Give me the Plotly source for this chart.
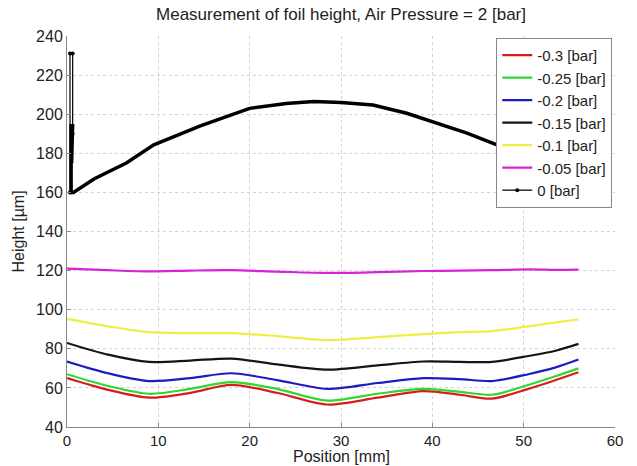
import plotly.graph_objects as go

# Common positions (mm) for the six lower curves
pos = [0, 4.5, 9, 13.5, 18, 23, 28.5, 34, 39, 43, 46.5, 50.5, 53.5, 56]

h_m030 = [65, 59, 55, 57.5, 61.5, 57.5, 51.5, 55, 58.3, 56.5, 54.5, 59.5, 64, 68]
h_m025 = [67, 61, 57, 59.5, 63, 59.5, 53.5, 57, 59.5, 58, 56.5, 61.5, 66, 70]
h_m020 = [73.5, 67.5, 63.5, 65, 67.5, 64, 59.5, 62.5, 65, 64.5, 63.5, 67, 70.5, 74.5]
h_m015 = [83, 77, 73.3, 74, 75, 72, 69.3, 71.5, 73.5, 73.3, 73.3, 76.3, 79, 82.5]
h_m010 = [95.3, 91.5, 88.5, 88, 88, 86.5, 84.5, 86, 87.5, 88.5, 89, 91.5, 93.5, 95]
h_m005 = [121, 120.2, 119.6, 120, 120.2, 119.5, 118.8, 119.2, 119.8, 120, 120.2, 120.6, 120.4, 120.5]

# 0 bar: start-up spike and main curve
pos_0_spike = [0.33, 0.33, 0.62, 0.62]
h_0_spike = [160, 231, 231, 190]
pos_0 = [0.62, 0.5, 0.45, 0.45, 0.7, 3, 6.5, 9.5, 14.6, 20, 24, 27, 30, 33.5, 37.2, 40, 43.8, 47, 50, 53, 56]
h_0 = [195, 175, 195, 160, 160, 167, 175, 184.3, 194, 203, 205.5, 206.5, 206, 204.7, 200.5, 196.2, 190.3, 184.5, 178, 171, 164]

names = ["-0.3 [bar]", "-0.25 [bar]", "-0.2 [bar]", "-0.15 [bar]", "-0.1 [bar]", "-0.05 [bar]"]
series = [h_m030, h_m025, h_m020, h_m015, h_m010, h_m005]
colors = ["#d81c1c", "#2ed82e", "#1c1cc0", "#151515", "#eeee44", "#d822d8"]

x_ticks = [0, 10, 20, 30, 40, 50, 60]
y_ticks = [40, 60, 80, 100, 120, 140, 160, 180, 200, 220, 240]

fig = go.Figure()
for nm, ys, c in zip(names, series, colors):
    fig.add_trace(go.Scatter(x=pos, y=ys, name=nm, mode="lines",
                             line=dict(color=c, width=2.2, shape="spline", smoothing=0.8)))
fig.add_trace(go.Scatter(x=pos_0, y=h_0, name="0 [bar]", mode="lines", legendgroup="zero",
                         showlegend=False, line=dict(color="#000000", width=3.5)))
fig.add_trace(go.Scatter(x=pos_0_spike, y=h_0_spike, name="0 [bar]", mode="lines+markers",
                         legendgroup="zero",
                         line=dict(color="#000000", width=1.2),
                         marker=dict(size=4, color="#000000")))

font_family = "Liberation Sans, Arial, sans-serif"
txt = "#222222"
fig.update_layout(
    width=637, height=466,
    margin=dict(l=67, r=22, t=36, b=39),
    paper_bgcolor="white", plot_bgcolor="white",
    font=dict(family=font_family, size=16, color=txt),
    title=dict(text="Measurement of foil height, Air Pressure = 2 [bar]",
               xref="paper", x=0.5, xanchor="center", y=0.97, yanchor="middle",
               font=dict(size=17, color=txt)),
    showlegend=True,
    legend=dict(x=0.995, xanchor="right", y=0.995, yanchor="top",
                bgcolor="white", bordercolor="#888888", borderwidth=1,
                font=dict(size=15, color=txt),
                tracegroupgap=0, itemwidth=30),
    annotations=[
        dict(text="Position [mm]", xref="paper", yref="paper", x=0.5, y=0,
             xanchor="center", yanchor="middle", yshift=-29, showarrow=False,
             font=dict(size=16, color=txt)),
        dict(text="Height [µm]", xref="paper", yref="paper", x=0, y=0.5,
             xanchor="center", yanchor="middle", xshift=-49, textangle=-90,
             showarrow=False, font=dict(size=16, color=txt)),
    ],
)
fig.update_xaxes(range=[0, 60], tickvals=x_ticks, ticks="inside", ticklen=4,
                 tickcolor="#888888", showline=True, linecolor="#888888", linewidth=1,
                 showgrid=True, gridcolor="#d2d2d2", griddash="dot", zeroline=False,
                 automargin=False, tickfont=dict(size=15))
fig.update_yaxes(range=[40, 240], tickvals=y_ticks, ticks="inside", ticklen=4,
                 tickcolor="#888888", showline=True, linecolor="#888888", linewidth=1,
                 showgrid=True, gridcolor="#d2d2d2", griddash="dot", zeroline=False,
                 automargin=False, tickfont=dict(size=16))

fig.write_html("out.html", config={"displayModeBar": False},
               post_script="document.body.style.margin='0';")
